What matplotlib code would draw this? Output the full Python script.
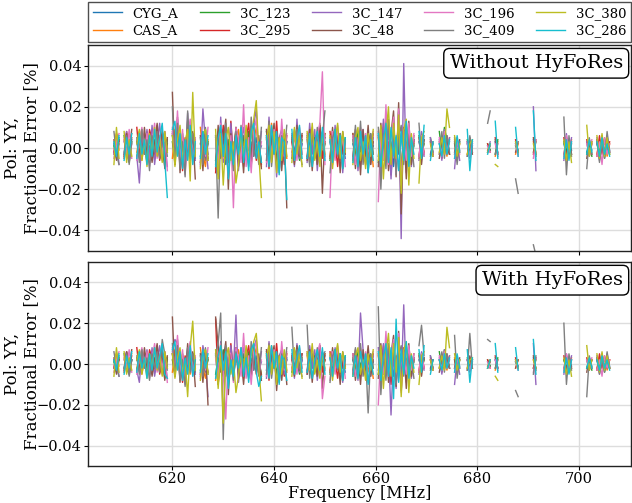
import numpy as np
import matplotlib
matplotlib.use("Agg")
import matplotlib.pyplot as plt

plt.rcParams['font.family'] = ['DejaVu Serif']
plt.rcParams['mathtext.fontset'] = 'dejavuserif'

# ---------------- data ----------------
source_names = ["CYG_A", "CAS_A", "3C_123", "3C_295", "3C_147",
                "3C_48", "3C_196", "3C_409", "3C_380", "3C_286"]
source_colors = ["#1f77b4", "#ff7f0e", "#2ca02c", "#d62728", "#9467bd",
                 "#8c564b", "#e377c2", "#7f7f7f", "#bcbd22", "#17becf"]
panel_titles = ["Without HyFoRes", "With HyFoRes"]
x_ticks = [620, 640, 660, 680, 700]
y_ticks = [-0.04, -0.02, 0.00, 0.02, 0.04]
value_scale = 1e-3  # values below are in units of 0.001 %

# unflagged channel frequencies [MHz], grouped in contiguous blocks
freq_segments = [
    [608.5, 609.0, 609.5],
    [610.5, 611.0, 611.5, 612.0],
    [613.0, 613.5, 614.0, 614.5, 615.0, 615.5, 616.0, 616.5, 617.0, 617.5, 618.0, 618.5, 619.0],
    [620.0, 620.5, 621.0, 621.5, 622.0, 622.5, 623.0, 623.5, 624.0, 624.5],
    [625.5, 626.0, 626.5, 627.0],
    [628.5, 629.0, 629.5, 630.0, 630.5, 631.0, 631.5, 632.0, 632.5, 633.0, 633.5, 634.0, 634.5, 635.0, 635.5, 636.0, 636.5, 637.0, 637.5],
    [638.5, 639.0, 639.5, 640.0, 640.5, 641.0, 641.5, 642.0, 642.5],
    [643.5, 644.0, 644.5, 645.0, 645.5],
    [646.5, 647.0, 647.5, 648.0, 648.5, 649.0, 649.5, 650.0],
    [651.0, 651.5, 652.0, 652.5, 653.0, 653.5, 654.0],
    [655.5, 656.0, 656.5, 657.0, 657.5, 658.0, 658.5, 659.0, 659.5],
    [660.5, 661.0, 661.5, 662.0, 662.5, 663.0, 663.5, 664.0, 664.5, 665.0, 665.5, 666.0, 666.5, 667.0, 667.5],
    [668.5, 669.0, 669.5],
    [670.75, 671.25],
    [672.5, 673.0, 673.5, 674.0, 674.5],
    [675.5, 676.0, 676.5],
    [678.0, 678.5, 679.0],
    [682.0, 682.5],
    [683.5, 684.0],
    [687.5, 688.0],
    [691.0, 691.5],
    [697.0, 697.5, 698.0, 698.5],
    [701.5, 702.0, 702.5],
    [703.5, 704.0, 704.5, 705.0, 705.5, 706.0],
]

# ---- Without HyFoRes ----
top_cyg_a = [[2,-4,5],[-3,6,-2,4],[3,-5,2,7,-3,1,-6,4,-2,5,-4,3,-1],[6,-2,8,-5,3,-7,2,5,-3,4],[-4,3,-6,2],
    [5,-3,7,-2,-8,4,1,-5,6,-3,2,-6,8,-1,3,-4,5,-2,1],[-3,6,-5,2,7,-4,1,-6,3],[4,-2,5,-3,2],[-5,3,6,-2,4,-6,2,5],
    [3,-4,1,6,-3,2,-5],[2,-3,5,-1,4,-5,3,-2,1],[-4,6,-2,8,-6,3,-9,5,-3,7,-5,2,6,-4,1],[3,-2,4],[-3,2],[2,-3,4,-1,3],
    [-2,3,-1],[2,-3,1],[1,-1],[3,-2],[2,-1],[4,-3],[2,-3,3,-1],[-2,3,-1],[2,-3,4,-2,3,-1]]
top_cas_a = [[-3,6,-1],[4,-5,3,7],[-2,5,-6,3,8,-3,2,-5,6,-1,3,-4,2],[-5,9,-3,6,-8,4,1,-6,7,-2],[10,-3,-9,4],
    [-10,3,6,-4,8,-2,5,-7,2,9,-5,3,-2,6,-8,4,10,-3,-9],[6,-4,12,-2,5,-9,3,7,-5],[-2,6,-4,8,-3],[5,-7,9,-3,2,-6,4,7],
    [-4,8,-2,5,-6,3,-1],[7,-3,4,-8,2,6,-5,3,-9],[5,-8,10,-4,2,-10,7,-3,12,-12,6,-2,8,-6,3],[-5,4,-2],[3,-4],[-3,6,2,-4,5],
    [4,-5,2],[-3,4,-2],[-1,2],[-4,3],[-3,2],[3,-2],[-4,2,-3,4],[3,-4,2],[-3,4,-2,5,-4,2]]
top_3c123 = [[1,-5,4],[6,-2,-7,3],[-4,2,9,-3,5,-7,3,-2,8,-5,1,-9,4],[3,-6,10,-2,7,-4,5,-3,6,-5],[2,8,-4,3],
    [-6,4,-3,9,-5,2,7,-8,10,3,-4,6,-2,8,-6,5,-3,2,-7],[8,-3,5,9,-6,2,-4,7,3],[-5,9,2,-6,4],[6,-3,8,-5,3,7,-4,2],
    [-6,4,9,-3,7,-2,5],[4,-6,8,-2,5,-4,2,7,-3],[-7,3,9,-5,11,-3,6,-8,4,-13,8,-4,5,-6,2],[6,-3,2],[5,-2],[8,-2,10,4,-3],
    [2,-4,3],[4,-2,3],[2,-1],[-3,4],[1,-2],[-2,3],[3,-2,4,-3],[-3,2,-4],[4,-2,3,-5,2,-3]]
top_3c295 = [[-2,7,3],[-5,8,-3,5],[10,-4,6,2,-7,9,4,-3,11,-6,3,8,-2],[7,-8,12,3,-11,5,-4,9,-6,2],[-7,6,3,-5],
    [-12,8,-3,11,5,-7,13,-5,9,-3,6,-9,4,12,-4,7,-6,3,-8],[5,-10,8,-3,13,-6,4,-8,6],[3,-7,10,-4,6],[-4,9,-2,6,-8,11,-5,3],
    [8,-5,3,-9,6,-3,4],[-6,9,-4,6,2,-8,5,-3,7],[6,-10,12,-6,3,-13,8,-5,14,-17,9,-4,11,-7,4],[-4,6,-3],[4,-3],[3,-5,7,2,-3],
    [-3,5,-2],[3,-4,2],[2,-2],[5,-3],[4,-2],[-3,4],[5,-4,2,-3],[4,-2,3],[-4,6,-3,4,-2,3]]
top_3c147 = [[-3,5,-8],[3,8,-6,2],[-4,-17,6,-3,9,-5,11,-8,3,12,-6,2,-9],[8,-5,14,-9,4,-12,17,-4,7,-6],[-8,19,3,-10],
    [6,-13,15,-7,3,-10,12,-4,7,-11,4,10,-6,2,-9,11,19,-5,8],[-9,15,-4,7,-14,5,9,-6,3],[7,-9,14,-5,2],[-7,12,-3,9,-11,5,8,-4],
    [5,-8,11,-3,7,-12,4],[-5,8,-11,4,9,-6,2,-8,5],[8,-12,14,-5,9,-15,6,-10,18,-44,41,-12,7,-9,4],[-6,8,-4],[5,-4],[4,-6,9,-3,5],
    [-10,4,-6],[3,-5,2],[-2,3],[3,-4],[2,-3],[20,-11],[-6,7,-3,5],[3,-4,2],[5,-6,4,-3,6,-2]]
top_3c48 = [[4,-6,2],[-4,7,-2,9],[3,8,-5,10,-3,6,-7,2,12,-4,9,-10,5],[27,-8,15,-12,5,-9,13,-4,8,-15],[6,-11,9,-3],
    [-8,11,-5,2,14,-20,7,-6,10,-9,4,-12,8,3,-7,12,-4,6,-10],[9,-7,3,12,-8,5,-11,6,-29],[5,-8,11,-4,7],[-6,9,-11,5,-8,12,-22,7],
    [-5,10,-4,6,-12,8,-3],[7,-10,5,-13,9,-4,11,-8,3],[-9,12,-6,15,-11,7,18,-14,22,-32,10,-15,13,-8,6],[5,-8,4],[-4,3],[-5,4,-2,6,-3],
    [3,-6,4],[-4,5,-3],[-2,1],[4,-3],[-2,3],[5,-4],[-3,5,-4,2],[-5,4,-3],[3,-5,6,-3,4,-2]]
top_3c196 = [[-5,3,7],[5,-3,9,-5],[-6,4,10,-2,7,-9,3,12,-5,6,-3,8,-11],[10,-4,18,-6,9,-13,6,14,-8,5],[-9,7,-4,10],
    [4,-9,12,-5,8,-14,6,-29,10,4,-7,21,-9,5,-12,8,14,-6,3],[-7,12,-5,9,3,-10,14,-4,7],[-4,8,-6,10,-3],[7,-5,10,-4,6,12,37,-8],
    [-24,8,-6,11,-3,6,-9],[6,-8,4,10,-5,7,-11,3,8],[-26,9,-6,21,-8,5,15,-12,19,-18,8,-6,12,-4,7],[-4,6,-3],[3,-2],[5,-4,8,-2,4],
    [-5,4,-3],[2,-4,3],[1,-2],[2,-3],[3,-4],[-5,4],[-4,6,-2,3],[2,-3,4],[-4,3,-8,5,-3,2]]
top_3c409 = [[8,-3,-8],[-2,6,-8,3],[5,-7,9,-3,4,-11,6,-2,8,-5,3,7,-4],[20,-6,12,-10,3,-14,18,-5,7,-3],[5,-8,10,-6],
    [6,-34,9,-4,12,-7,3,-11,8,-5,11,-3,6,-9,15,-4,2,-8,10],[-6,13,-9,4,8,-12,6,-3,11],[6,-5,9,-2,-8],[4,-9,7,-3,10,-6,5,18],
    [-12,5,9,-4,7,-10,3],[-4,11,-6,13,-8,5,-12,7,-3],[10,-20,7,-10,14,-6,9,-13,5,11,-8,13,-7,4,-9],[12,-5,6],[3,-2],[-3,8,-5,6,-2],
    [5,-8,3],[-4,6,-2],[12,18],[-3,2],[-15,-22],[-47,-52],[15,-13,6,-4],[-10,5,-3],[4,-7,3,-5,8,-2]]
top_3c380 = [[-8,10,-5],[8,-7,4,-4],[2,9,-6,4,-9,7,-3,10,-4,5,-7,8,-2],[6,-9,4,11,-7,3,9,-16,27,-4],[-10,6,9,-6],
    [9,-15,7,-18,4,10,-6,3,-17,-8,6,-4,11,-7,5,14,23,-3,-24],[4,11,-7,8,-12,5,-6,9,-4],[-7,10,-3,6,-9],[8,-4,12,-6,3,-9,7,-3],
    [6,-10,4,12,-5,8,-2],[-8,5,10,-6,3,-10,7,-4,9],[-6,11,-15,6,20,-8,12,-5,16,-22,9,14,-18,7,-5],[-17,5,8],[2,-4],[-2,5,-3,19,10],
    [6,-4,2],[-3,2,4],[-2,2],[-8,-9],[3,-2],[2,-3],[4,-6,3,-7],[11,-4,3],[6,-5,7,-4,5,-3]]
top_3c286 = [[3,-4,6],[-6,5,-3,7],[-5,7,-3,4,-8,6,-4,9,-2,5,12,-6,-24],[9,13,-4,7,-10,4,-6,11,-8,3],[-5,8,-3,6],
    [-9,5,11,-4,7,-15,3,-8,6,-3,10,-7,4,-11,8,12,-5,3,-7],[6,-9,11,-3,8,-13,5,3,-25],[9,-6,4,11,-5],[-5,7,-9,3,8,-4,10,-6],
    [4,-7,9,-3,6,-10,5],[-7,5,-9,8,-3,6,-12,4,-6],[7,-9,4,12,-7,10,-4,6,-11,8,-6,13,-9,5,-3],[8,-5,11],[-6,3],[2,-4,6,-3,4],
    [-5,6,-2],[9,-11,4],[-3,2],[13,-5],[10,-4],[18,-6],[-5,4,-6,3],[-3,4,-2],[3,-4,5,-3,2,-4]]

# ---- With HyFoRes ----
bot_cyg_a = [[2,-3,4],[-2,5,-3,2],[3,-4,2,5,-2,1,-5,3,-2,4,-3,2,-1],[5,-2,6,-4,3,-5,2,4,-3,3],[-3,2,-4,3],
    [4,-3,5,-2,-6,3,1,-4,5,-2,2,-5,6,-1,3,-3,4,-2,1],[-3,5,-4,2,6,-3,1,-5,3],[3,-2,4,-3,2],[-4,3,5,-2,3,-5,2,4],
    [3,-3,1,5,-2,2,-4],[2,-3,4,-1,3,-4,2,-2,1],[-3,5,-2,6,-5,3,-6,4,-3,5,-4,2,5,-3,1],[2,-2,3],[-2,2],[2,-2,3,-1,2],
    [-2,2,-1],[2,-2,1],[1,-1],[2,-2],[1,-1],[3,-2],[2,-2,2,-1],[-2,2,-1],[2,-2,3,-2,2,-1]]
bot_cas_a = [[-2,5,-1],[3,-4,2,5],[-2,4,-5,2,6,-3,2,-4,5,-1,2,-3,2],[-4,7,-2,5,-6,3,1,-5,5,-2],[8,-2,-7,3],
    [-8,2,5,-3,6,-2,4,-5,2,7,-4,2,-2,5,-6,3,8,-2,-7],[5,-3,9,-2,4,-7,2,5,-4],[-2,5,-3,6,-2],[4,-5,7,-2,2,-5,3,5],
    [-3,6,-2,4,-5,2,-1],[5,-2,3,-6,2,5,-4,2,-7],[4,-6,8,-3,2,-8,5,-2,9,-7,5,-2,6,-5,2],[-4,3,-2],[2,-3],[-2,5,2,-3,4],
    [3,-4,2],[-2,3,-2],[-1,2],[-3,2],[-2,2],[2,-2],[-3,2,-2,3],[2,-3,2],[-2,3,-2,4,-3,2]]
bot_3c123 = [[1,-4,3],[5,-2,-5,2],[-3,2,7,-2,4,-5,2,-2,6,-4,1,-7,3],[2,-5,8,-2,5,-3,4,-2,5,-4],[2,6,-3,2],
    [-5,3,-2,7,-4,2,5,-6,8,2,-3,5,-2,6,-5,4,-2,2,-5],[6,-2,4,7,-5,2,-3,5,2],[-4,7,2,-5,3],[5,-2,6,-4,2,5,-3,2],
    [-5,3,7,-2,5,-2,4],[3,-5,6,-2,4,-3,2,5,-2],[-5,2,7,-4,8,-2,5,-6,3,-9,6,-3,4,-5,2],[5,-2,2],[4,-2],[6,-2,7,3,-2],
    [2,-3,2],[3,-2,2],[2,-1],[-2,3],[1,-2],[-2,2],[2,-2,3,-2],[-2,2,-3],[3,-2,2,-4,2,-2]]
bot_3c295 = [[-2,5,2],[-4,6,-2,4],[8,-3,5,2,-5,7,3,-2,9,-5,2,6,-2],[5,-6,9,2,-9,4,-3,7,-5,2],[-5,5,2,-4],
    [22,-10,3,-6,4,-5,10,-4,7,-2,5,-7,3,9,-3,5,-5,2,-6],[4,-8,6,-2,10,-5,3,-6,5],[2,-5,8,-3,5],[-3,7,-2,5,-6,9,-4,2],
    [6,-4,2,-7,5,-2,3],[-5,7,-3,5,2,-6,4,-2,5],[5,-8,9,-5,2,-10,6,-4,11,-9,7,-3,8,-5,3],[-3,5,-2],[3,-2],[2,-4,5,2,-2],
    [-2,4,-2],[2,-3,2],[2,-2],[4,-2],[3,-2],[-2,3],[4,-3,2,-2],[3,-2,2],[-3,5,-2,3,-2,2]]
bot_3c147 = [[-2,4,-6],[2,6,-5,2],[-3,-9,5,-2,7,-4,8,-6,2,9,-5,2,-7],[6,12,10,-7,3,-9,8,-3,5,-5],[-6,9,2,-16],
    [5,-10,11,-5,2,-8,9,-3,24,-9,3,8,-5,2,-7,8,12,-4,6],[-7,11,-3,5,-10,4,7,-5,2],[5,-7,10,-4,2],[-5,9,-2,7,-8,4,6,-3],
    [4,-6,8,-2,5,-9,3],[-4,6,-8,25,7,-5,2,-6,4],[8,-8,10,-4,7,-25,5,-12,13,-10,29,-9,5,-7,3],[-5,6,-3],[4,-3],[3,-5,7,-2,4],
    [-10,3,-5],[2,-4,2],[-2,2],[2,-3],[2,-2],[10,-10],[-5,5,-2,4],[2,-3,2],[4,-5,3,-2,5,-2]]
bot_3c48 = [[3,-5,2],[-3,6,-2,7],[2,6,-4,8,-2,5,-6,2,10,-3,7,-8,4],[23,-6,12,-9,4,-7,10,-3,6,-11],[5,-9,7,-20],
    [23,9,-4,2,11,-15,5,-5,8,-7,3,-10,6,2,-5,9,-3,5,-8],[7,-5,2,9,-13,4,-8,5,-10],[4,-6,9,-3,5],[-5,7,-9,4,-6,9,-12,5],
    [-4,8,-3,5,-10,6,-2],[5,-8,4,-10,7,-3,9,-6,2],[-7,10,-5,12,-9,5,14,-11,16,-13,8,-12,10,-6,5],[4,-6,3],[-3,2],[-4,3,-2,5,-2],
    [2,-5,3],[-3,4,-2],[-2,1],[3,-2],[-2,2],[4,-3],[-2,4,-3,2],[-4,3,-2],[2,-4,5,-2,3,-2]]
bot_3c196 = [[-4,2,6],[4,-2,7,-4],[-5,3,8,-2,6,-7,2,10,-4,5,-2,6,-9],[8,-3,14,-5,7,-10,5,11,-6,4],[-7,6,-3,8],
    [3,-7,10,-4,-27,6,5,-9,8,3,-6,15,-7,4,-10,6,11,-5,2],[-6,10,-4,7,2,-8,11,-3,6],[-3,6,-5,8,-2],[6,-4,8,-3,5,10,-17,-6],
    [-8,6,-5,9,-2,5,-7],[5,-6,3,8,-4,6,-9,2,6],[-20,7,-5,16,-6,4,12,-9,15,-14,6,-5,9,-3,5],[-3,5,-2],[2,-2],[4,-3,6,-2,3],
    [-4,3,-2],[2,-3,2],[1,-2],[2,-2],[2,-3],[-4,3],[-3,5,-2,2],[2,-2,3],[-3,2,-6,4,-2,2]]
bot_3c409 = [[6,-2,-6],[-2,5,-6,2],[4,-5,7,-2,3,-8,5,-2,6,-4,12,5,-3],[10,-5,9,-8,2,-11,8,-4,5,-2],[4,-6,8,-5],
    [5,10,25,-37,9,-5,2,-8,6,-4,8,-2,5,-7,11,-3,2,-6,8],[-5,10,-7,3,6,-9,5,-2,8],[18,-4,7,-2,-6],[19,-7,5,-2,8,-5,4,6],
    [-9,4,7,-3,5,-8,2],[-3,8,-5,10,-6,4,-24,5,-2],[28,-15,5,-8,10,-5,7,-10,4,9,-6,10,-5,3,-7],[9,19,4],[2,-2],[-2,6,-4,5,-2],
    [14,-7,2],[-3,15,-2],[12,11],[-2,2],[-13,-16],[-5,4],[20,-10,5,-3],[-16,4,-2],[3,-5,2,-4,6,-2]]
bot_3c380 = [[-6,8,-4],[6,-5,3,-3],[2,7,-5,3,-7,5,-2,8,-3,4,-6,6,-2],[5,-7,3,8,-5,2,-16,8,21,-3],[-8,5,7,-5],
    [7,-12,6,-29,3,8,-5,2,-14,-6,5,-3,9,-5,4,11,15,-2,-18],[3,9,-5,6,-10,4,-5,7,-3],[-6,8,-2,5,-7],[6,-3,10,-5,2,-7,5,-2],
    [5,-8,3,10,-4,6,-2],[-6,4,8,-5,2,-8,5,-3,7],[-5,9,-12,5,15,-6,10,-4,13,-16,7,11,-14,5,-4],[-10,4,6],[2,-3],[-2,4,-3,18,8],
    [5,-3,2],[-2,2,3],[-2,2],[-6,-8],[2,-2],[2,-2],[3,-5,2,-6],[9,-3,2],[5,-4,6,-3,4,-2]]
bot_3c286 = [[2,-3,5],[-5,4,-2,6],[-4,6,-2,3,-7,5,-3,8,-2,4,10,-5,-7],[7,11,-3,6,-8,3,-5,9,-6,2],[-4,7,-2,5],
    [-7,4,9,-3,6,-12,2,-6,5,-2,8,-6,3,-9,7,10,-4,-11,-6],[5,-7,9,-2,6,-10,4,2,-8],[7,-5,3,9,-4],[-4,6,-7,2,7,-3,8,-5],
    [3,-6,7,-2,5,-8,4],[-6,4,-7,6,-2,5,-10,3,-5],[6,-8,3,10,-6,8,-17,22,-9,7,-5,11,-7,4,-2],[7,-4,9],[-5,2],[2,-3,5,-2,3],
    [-4,5,-2],[7,-9,3],[-2,2],[10,-4],[8,-3],[12,-5],[-4,3,-5,2],[-2,3,-2],[2,-3,4,-2,2,-3]]

top_series = [top_cyg_a, top_cas_a, top_3c123, top_3c295, top_3c147,
              top_3c48, top_3c196, top_3c409, top_3c380, top_3c286]
bot_series = [bot_cyg_a, bot_cas_a, bot_3c123, bot_3c295, bot_3c147,
              bot_3c48, bot_3c196, bot_3c409, bot_3c380, bot_3c286]


def join_segments(series):
    xs, ys = [], []
    for f_seg, v_seg in zip(freq_segments, series):
        n = min(len(f_seg), len(v_seg))
        xs += list(f_seg[:n]) + [np.nan]
        ys += [v * value_scale for v in v_seg[:n]] + [np.nan]
    return np.array(xs), np.array(ys)


# ---------------- figure ----------------
W, H = 632, 503
fig = plt.figure(figsize=(W / 100, H / 100), dpi=100)
ax_top = fig.add_axes([88 / W, 1 - 251 / H, 543 / W, 206 / H])
ax_bot = fig.add_axes([88 / W, 1 - 466 / H, 543 / W, 204 / H], sharex=ax_top)

for ax, data, title in [(ax_top, top_series, panel_titles[0]),
                        (ax_bot, bot_series, panel_titles[1])]:
    for name, color, series in zip(source_names, source_colors, data):
        x, y = join_segments(series)
        ax.plot(x, y, color=color, lw=1.0, label=name)
    ax.set_ylim(-0.05, 0.05)
    ax.set_xlim(603.4, 710.2)
    ax.set_yticks(y_ticks)
    ax.set_xticks(x_ticks)
    ax.grid(True, color="#dddddd", lw=1.0)
    ax.set_axisbelow(True)
    ax.tick_params(labelsize=10.5, length=3, pad=1.5)
    ax.set_ylabel("Pol: YY,\nFractional Error [%]", fontsize=12, linespacing=1.15)
    ax.yaxis.set_label_coords(-0.088, 0.5)
    for sp in ax.spines.values():
        sp.set_color("#222222")
        sp.set_linewidth(1.0)
    ax.text(0.985, 0.955, title, transform=ax.transAxes, ha="right", va="top",
            fontsize=14,
            bbox=dict(boxstyle="round,pad=0.3", fc="white", ec="black", lw=1.0))

ax_top.tick_params(labelbottom=False)
ax_bot.set_xlabel("Frequency [MHz]", fontsize=11.5, labelpad=-1)

handles, labels = ax_top.get_legend_handles_labels()
leg = fig.legend(handles, labels, loc="lower left", ncol=5, mode="expand",
                 bbox_to_anchor=(88 / W, 1 - 42 / H, 543 / W, 41 / H),
                 fontsize=9.5, frameon=True, fancybox=False, borderaxespad=0,
                 handlelength=2.2, columnspacing=1.0, labelspacing=0.35,
                 borderpad=0.35)
leg.get_frame().set_edgecolor("#222222")
leg.get_frame().set_linewidth(1.0)

fig.savefig("out.png", dpi=100)
